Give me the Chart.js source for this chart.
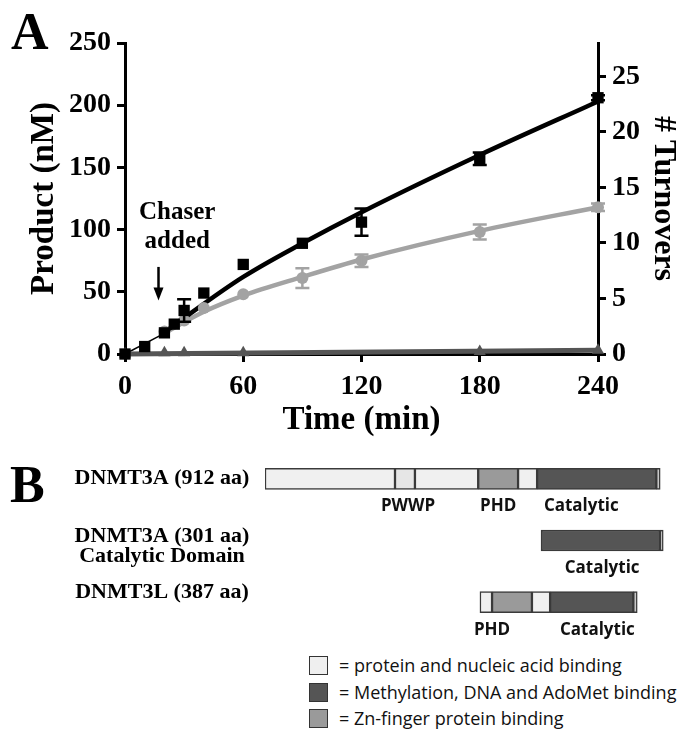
<!DOCTYPE html>
<html>
<head>
<meta charset="utf-8">
<script src="https://cdn.jsdelivr.net/npm/chart.js@4.4.1/dist/chart.umd.min.js"></script>
<style>
html, body { margin: 0; padding: 0; background: #fff; }
#wrap { position: relative; width: 682px; height: 736px; overflow: hidden; }
#chartA { position: absolute; left: 0; top: 0; }
#chartB { position: absolute; left: 0; top: 440px; }
.panel { position: absolute; font: bold 52px 'Liberation Serif', serif; line-height: 1; color: #000; }
.key { position: absolute; left: 309px; height: 20px; font: 18px 'Open Sans', sans-serif; color: #111; white-space: nowrap; }
.key span.sw { position: absolute; left: 0; top: 0; width: 17px; height: 17px; border: 1.5px solid #333; }
.key span.tx { position: absolute; left: 30px; top: -3px; line-height: 24px; }
</style>
</head>
<body>
<div id="wrap">
  <canvas id="chartA" width="682" height="440"></canvas>
  <canvas id="chartB" width="682" height="200"></canvas>
  <div class="panel" style="left:11px; top:6px;">A</div>
  <div class="panel" style="left:10px; top:459px;">B</div>
  <div class="key" style="top:656px;"><span class="sw" style="background:#efefef"></span><span class="tx">= protein and nucleic acid binding</span></div>
  <div class="key" style="top:683px;"><span class="sw" style="background:#555"></span><span class="tx">= Methylation, DNA and AdoMet binding</span></div>
  <div class="key" style="top:709px;"><span class="sw" style="background:#9a9a9a"></span><span class="tx">= Zn-finger protein binding</span></div>
</div>
<script>
// ---- Panel A data ----
const squareTimes = [0, 10, 20, 25, 30, 40, 60, 90, 120, 180, 240];
const squareProduct = [0, 6, 17, 24, 35, 49, 72, 89, 106, 157, 206];
const squareErr = [0, 0, 0, 0, 9, 0, 0, 0, 11, 5, 2];

const circleTimes = [20, 30, 40, 60, 90, 120, 180, 240];
const circleProduct = [18, 27, 37, 48, 61, 75, 98, 118];
const circleErr = [0, 0, 0, 0, 8, 5, 6, 3];

const triangleTimes = [0, 20, 30, 60, 180, 240];
const triangleProduct = [0, 1, 1, 1, 2, 3];

// fitted curves
const blackFitTimes = [18, 30, 60, 90, 120, 180, 240];
const blackFitProduct = [15, 29, 62, 89, 114, 160, 203];
const greyFitTimes = [18, 40, 60, 90, 120, 180, 240];
const greyFitProduct = [15, 34, 47, 62, 76, 99, 118];
const triFitTimes = [0, 240];
const triFitProduct = [0, 3];
const preChaseTimes = [0, 18];
const preChaseProduct = [0, 15];

const xTicks = [0, 60, 120, 180, 240];
const productMax = 250;
const turnoverMax = 28;

const chaserTime = 17;

// ---- Panel B data (aa positions, aligned on the catalytic domain) ----
const rowNames = ['DNMT3A (912 aa)', 'DNMT3A (301 aa)|Catalytic Domain', 'DNMT3L (387 aa)'];
const lightSegs = [[0, 0, 300], [0, 346, 492], [0, 584, 628], [2, 496, 524], [2, 616, 658]];
const pwwpSegs = [[0, 300, 346]];
const phdSegs = [[0, 492, 584], [2, 524, 616]];
const catSegs = [[0, 628, 903], [1, 637, 912], [2, 658, 850]];
const endSegs = [[0, 903, 912], [1, 912, 919], [2, 850, 859]];
const domainLabels = [[0, 330, 'PWWP'], [0, 538, 'PHD'], [0, 730, 'Catalytic'], [1, 778, 'Catalytic'], [2, 524, 'PHD'], [2, 767, 'Catalytic']];

const SERIF = "'Liberation Serif', 'Times New Roman', serif";
Chart.defaults.color = '#000';
Chart.defaults.font.family = SERIF;

function pts(xs, ys) {
    return xs.map((x, i) => ({ x: x, y: ys[i] }));
}

// Error bars plugin
const errorBars = {
    id: 'errorBars',
    afterDatasetsDraw(chart) {
        const ctx = chart.ctx;
        const xs = chart.scales.x, ys = chart.scales.y;
        chart.data.datasets.forEach(ds => {
            if (!ds.errors) return;
            ctx.save();
            ctx.strokeStyle = ds.backgroundColor;
            ctx.lineWidth = 2.5;
            ds.data.forEach((p, i) => {
                const e = ds.errors[i];
                if (!e) return;
                const x = xs.getPixelForValue(p.x);
                const yt = ys.getPixelForValue(p.y + e);
                const yb = ys.getPixelForValue(p.y - e);
                ctx.beginPath();
                ctx.moveTo(x, yt); ctx.lineTo(x, yb);
                ctx.moveTo(x - 7, yt); ctx.lineTo(x + 7, yt);
                ctx.moveTo(x - 7, yb); ctx.lineTo(x + 7, yb);
                ctx.stroke();
            });
            ctx.restore();
        });
    }
};

// "Chaser added" note with arrow
const chaserNote = {
    id: 'chaserNote',
    afterDraw(chart) {
        const ctx = chart.ctx;
        const xs = chart.scales.x, ys = chart.scales.y;
        ctx.save();
        ctx.fillStyle = '#000';
        ctx.font = 'bold 25px ' + SERIF;
        ctx.textAlign = 'center';
        ctx.textBaseline = 'middle';
        const tx = xs.getPixelForValue(chaserTime + 9.5);
        ctx.fillText('Chaser', tx, ys.getPixelForValue(114));
        ctx.fillText('added', tx, ys.getPixelForValue(90));
        const ax = xs.getPixelForValue(chaserTime);
        const a1 = ys.getPixelForValue(70), a2 = ys.getPixelForValue(43);
        ctx.strokeStyle = '#000';
        ctx.lineWidth = 2.5;
        ctx.beginPath();
        ctx.moveTo(ax, a1); ctx.lineTo(ax, a2 - 10);
        ctx.stroke();
        ctx.beginPath();
        ctx.moveTo(ax, a2); ctx.lineTo(ax - 5, a2 - 13); ctx.lineTo(ax + 5, a2 - 13);
        ctx.closePath();
        ctx.fill();
        ctx.restore();
    }
};

const tickFont = { size: 28, weight: 'bold', family: SERIF };
const axisGrid = { drawOnChartArea: false, color: '#000', lineWidth: 3, tickLength: 8, tickWidth: 3 };
const axisBorder = { display: true, color: '#000', width: 3 };

new Chart(document.getElementById('chartA'), {
    type: 'scatter',
    data: {
        datasets: [
            { data: pts(squareTimes, squareProduct), errors: squareErr, pointStyle: 'rect', pointRadius: 8, backgroundColor: '#000', borderWidth: 0, clip: false },
            { data: pts(circleTimes, circleProduct), errors: circleErr, pointStyle: 'circle', pointRadius: 6, backgroundColor: '#a3a3a3', borderWidth: 0, clip: false },
            { data: pts(triangleTimes, triangleProduct), pointStyle: 'triangle', pointRadius: 7, backgroundColor: '#555', borderWidth: 0, clip: false },
            { data: pts(blackFitTimes, blackFitProduct), showLine: true, pointRadius: 0, borderColor: '#000', borderWidth: 4.5, cubicInterpolationMode: 'monotone', clip: false },
            { data: pts(greyFitTimes, greyFitProduct), showLine: true, pointRadius: 0, borderColor: '#a3a3a3', borderWidth: 4.5, cubicInterpolationMode: 'monotone', clip: false },
            { data: pts(triFitTimes, triFitProduct), showLine: true, pointRadius: 0, borderColor: '#555', borderWidth: 5, clip: false },
            { data: pts(preChaseTimes, preChaseProduct), showLine: true, pointRadius: 0, borderColor: '#000', borderWidth: 1.5, clip: false }
        ]
    },
    options: {
        responsive: false,
        animation: false,
        layout: { padding: { top: 43, left: 0, right: 0, bottom: 0 } },
        plugins: { legend: { display: false }, tooltip: { enabled: false } },
        scales: {
            x: {
                type: 'linear', min: 0, max: 240,
                afterBuildTicks: s => { s.ticks = xTicks.map(v => ({ value: v })); },
                afterFit: s => { s.height = 86; },
                ticks: { font: tickFont, padding: 8 },
                grid: axisGrid, border: axisBorder,
                title: { display: true, text: 'Time (min)', font: { size: 33, weight: 'bold', family: SERIF }, padding: { top: 0, bottom: 0 } }
            },
            y: {
                position: 'left', min: 0, max: productMax,
                afterFit: s => { s.width = 125; },
                ticks: { stepSize: 50, font: tickFont, padding: 6 },
                grid: axisGrid, border: axisBorder,
                title: { display: true, text: 'Product (nM)', font: { size: 33, weight: 'bold', family: SERIF }, padding: { top: 25, bottom: 0 } }
            },
            y1: {
                position: 'right', min: 0, max: turnoverMax,
                afterFit: s => { s.width = 84; },
                ticks: { stepSize: 5, includeBounds: false, font: tickFont, padding: 6 },
                grid: axisGrid, border: axisBorder,
                title: { display: true, text: '# Turnovers', font: { size: 32, weight: 'bold', family: SERIF }, padding: { top: 0, bottom: 0 } }
            }
        }
    },
    plugins: [errorBars, chaserNote]
});

// ---- Panel B: domain maps as floating bars ----
function segData(segs) {
    return segs.map(s => ({ x: [s[1], s[2]], y: rowNames[s[0]] }));
}
const segStyle = { borderColor: '#3a3a3a', borderWidth: 1.5, borderSkipped: false, barThickness: 21, grouped: false };
const rowTextOffsets = [[-1], [-4, 16], [-10]];

const domainText = {
    id: 'domainText',
    afterDatasetsDraw(chart) {
        const ctx = chart.ctx;
        const xs = chart.scales.x, ys = chart.scales.y;
        ctx.save();
        ctx.fillStyle = '#111';
        ctx.textAlign = 'center';
        ctx.textBaseline = 'middle';
        ctx.font = "bold 17px 'Open Sans', sans-serif";
        domainLabels.forEach(d => {
            ctx.fillText(d[2], xs.getPixelForValue(d[1]), ys.getPixelForValue(d[0]) + 10.5 + 17);
        });
        // row names, centred in the margin left of the bars
        ctx.fillStyle = '#000';
        ctx.font = 'bold 22px ' + SERIF;
        rowNames.forEach((name, i) => {
            const yc = ys.getPixelForValue(i);
            name.split('|').forEach((line, j) => {
                ctx.fillText(line, 162, yc + rowTextOffsets[i][j]);
            });
        });
        ctx.restore();
    }
};

new Chart(document.getElementById('chartB'), {
    type: 'bar',
    data: {
        labels: rowNames,
        datasets: [
            Object.assign({ data: segData(lightSegs), backgroundColor: '#f0f0f0' }, segStyle),
            Object.assign({ data: segData(pwwpSegs), backgroundColor: '#e6e6e6' }, segStyle),
            Object.assign({ data: segData(phdSegs), backgroundColor: '#9a9a9a' }, segStyle),
            Object.assign({ data: segData(catSegs), backgroundColor: '#555555' }, segStyle),
            Object.assign({ data: segData(endSegs), backgroundColor: '#c8c8c8' }, segStyle)
        ]
    },
    options: {
        indexAxis: 'y',
        responsive: false,
        animation: false,
        layout: { padding: { top: 8, bottom: 7, left: 265, right: 1 } },
        plugins: { legend: { display: false }, tooltip: { enabled: false } },
        scales: {
            x: { type: 'linear', min: 0, max: 960, display: false },
            y: { display: false }
        }
    },
    plugins: [domainText]
});
</script>
</body>
</html>
